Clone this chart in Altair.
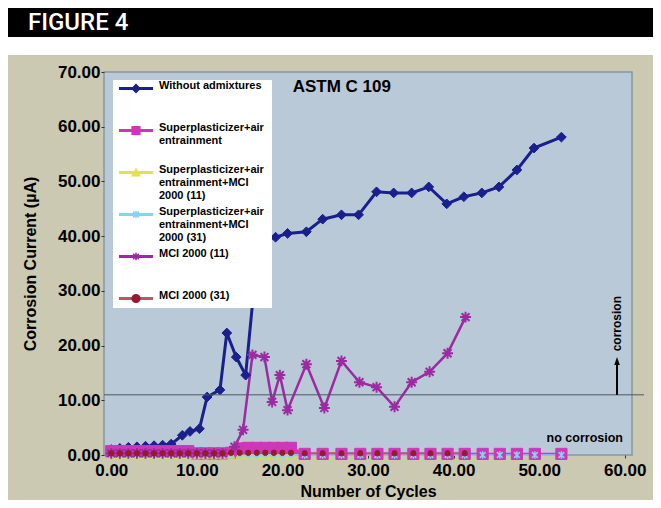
import altair as alt
import pandas as pd

# ---------------- data ----------------
SERIES = [
    "Without admixtures",
    "Superplasticizer+air|entrainment",
    "Superplasticizer+air|entrainment+MCI|2000 (11)",
    "Superplasticizer+air|entrainment+MCI|2000 (31)",
    "MCI 2000 (11)",
    "MCI 2000 (31)",
]

wo_x = [0, 1, 2, 3, 4, 5, 6, 7, 8.3, 9.2, 10.3, 11.2, 12.7, 13.5, 14.6, 15.7,
        17.2, 19.2, 20.6, 22.8, 24.7, 26.9, 28.9, 31.0, 33.0, 35.1, 37.1, 39.2,
        41.2, 43.3, 45.3, 47.4, 49.4, 52.6]
wo_y = [1.0, 1.2, 1.4, 1.5, 1.6, 1.7, 1.8, 2.0, 3.6, 4.3, 4.8, 10.6, 11.9, 22.3,
        17.9, 14.6, 39.0, 39.8, 40.5, 40.8, 43.1, 43.9, 43.9, 48.1, 47.9, 47.9,
        49.0, 45.9, 47.2, 47.9, 49.0, 52.1, 56.1, 58.1]

sp_x = [0, 1, 2, 3, 4, 5, 6, 7, 8, 9, 10, 11, 12, 13, 14, 15, 16, 17, 18, 19, 20, 21,
        22.6, 24.7, 26.9, 29.1, 31.1, 33.1, 35.3, 37.3, 39.3, 41.3, 43.4, 45.4,
        47.4, 49.5, 52.6]
sp_y = [0.7, 0.7, 0.7, 0.7, 0.7, 0.7, 0.7, 0.7, 0.7, 0.7, 0.3, 0.3, 0.3, 0.3, 0.4,
        1.2, 1.3, 1.3, 1.3, 1.3, 1.3, 1.3,
        0.2, 0.2, 0.2, 0.2, 0.2, 0.2, 0.2, 0.2, 0.2, 0.2, 0.2, 0.2, 0.2, 0.2, 0.2]

spm11_x = [0, 1, 2, 3, 4, 5, 6, 7, 8, 9, 10, 11, 12, 13, 14, 15, 16, 17, 18, 19, 20, 21]
spm11_y = [0.0, 0.0, 0.0, 0.0, 0.0, 0.0, 0.0, 0.0, 0.0, 0.0, 0.0, 0.0, 0.0, 0.0,
           0.0, 0.0, 0.0, 0.0, 0.0, 0.0, 0.0, 0.0]

spm31_x = [0, 1, 2, 3, 4, 5, 6, 7, 8, 9, 10, 11, 12, 13, 14, 15, 16, 17, 18, 19, 20, 21,
           22.6, 24.7, 26.9, 29.1, 31.1, 33.1, 35.3, 37.3, 39.3, 41.3, 43.4, 45.4,
           47.4, 49.5, 52.6]
spm31_y = [0.0, 0.0, 0.0, 0.0, 0.0, 0.0, 0.0, 0.0, 0.0, 0.0, 0.0, 0.0, 0.0, 0.0,
           0.0, 0.0, 0.0, 0.0, 0.0, 0.0, 0.0, 0.0,
           0.0, 0.0, 0.0, 0.0, 0.0, 0.0, 0.0, 0.0, 0.0, 0.0, 0.0, 0.0, 0.0, 0.0, 0.0]

m11_x = [0, 1, 2, 3, 4, 5, 6, 7, 8, 9, 10, 11, 12, 13, 14.4, 15.4, 16.5, 17.9,
         18.8, 19.7, 20.6, 22.8, 24.9, 26.9, 29.0, 31.0, 33.1, 35.1, 37.2, 39.3, 41.4]
m11_y = [0.3, 0.3, 0.3, 0.3, 0.3, 0.3, 0.3, 0.3, 0.3, 0.3, 0.3, 0.3, 0.3, 0.3,
         1.5, 4.6, 18.3, 17.9, 9.7, 14.6, 8.2, 16.6, 8.6, 17.2, 13.3, 12.4, 8.8,
         13.3, 15.2, 18.6, 25.2]

m31_x = [0, 1, 2, 3, 4, 5, 6, 7, 8, 9, 10, 11, 12, 13, 14, 15, 16, 17, 18, 19, 20, 21,
         22.6, 24.7, 26.9, 29.1, 31.1, 33.1, 35.3, 37.3, 39.3, 41.3]
m31_y = [0.3, 0.3, 0.3, 0.3, 0.3, 0.3, 0.3, 0.3, 0.3, 0.3, 0.3, 0.3, 0.3, 0.3,
         0.4, 0.4, 0.4, 0.4, 0.4, 0.4, 0.4, 0.4,
         0.3, 0.3, 0.3, 0.3, 0.3, 0.3, 0.3, 0.3, 0.3, 0.3]

X_VALUES = [wo_x, sp_x, spm11_x, spm31_x, m11_x, m31_x]
Y_VALUES = [wo_y, sp_y, spm11_y, spm31_y, m11_y, m31_y]

X_TICKS = [0, 10, 20, 30, 40, 50, 60]
Y_TICKS = [0, 10, 20, 30, 40, 50, 60, 70]

THRESHOLD = 11
ARROW_X = 59.1
ARROW_Y = [11, 16.6, 17.1]
CORROSION_POS = [59.1, 24.0]
NO_CORROSION_POS = [59.8, 2.4]
ASTM_POS = [21.2, 66.4]

# ---------------- styles ----------------
FONT = "Liberation Sans"
LINE_COLORS = ["#1a1f8e", "#cc38b8", "#e2e24a", "#86d2f0", "#9c2aa0", "#b85a64"]
MARK_COLORS = ["#1a1f8e", "#cc38b8", "#e2e24a", "#86d2f0", "#9c2aa0", "#9a1830"]
ASTER = "M-1,0L1,0M0,-1L0,1M-0.72,-0.72L0.72,0.72M-0.72,0.72L0.72,-0.72"
XBAR = "M-0.75,-0.75L0.75,0.75M-0.75,0.75L0.75,-0.75M0,-1L0,1"
LEGEND_LINE = "M-4.4,0L4.4,0"
SHAPES = ["diamond", "square", "triangle-up", XBAR, ASTER, "circle"]
SIZES = [95, 125, 55, 60, 120, 30]
LINE_W = [3, 2.5, 1.5, 1.5, 2.5, 2]
MARK_SW = [1, 1, 1, 1.5, 2, 1]
ZW = "\u200b"
SERIES_M = [s + ZW for s in SERIES]

rows = []
for name, xs, ys in zip(SERIES, X_VALUES, Y_VALUES):
    for x, y in zip(xs, ys):
        rows.append({"series": name, "series_m": name + ZW, "cycle": x, "current": y})
df = pd.DataFrame(rows)

x_axis = alt.Axis(values=X_TICKS, format=".2f", title="Number of Cycles",
                  labelFont=FONT, labelFontSize=17, labelFontWeight="bold",
                  labelColor="black", labelPadding=4, labelFlush=False,
                  labelOverlap=False, tickSize=3, tickColor="#333", tickWidth=1,
                  domain=False, grid=False, titleFont=FONT, titleFontSize=16,
                  titleFontWeight="bold", titleColor="black", titleY=41,
                  titleBaseline="alphabetic")
y_axis = alt.Axis(values=Y_TICKS, format=".2f", title="Corrosion Current (\u00b5A)",
                  labelFont=FONT, labelFontSize=17, labelFontWeight="bold",
                  labelColor="black", labelPadding=1, labelFlush=False,
                  labelOverlap=False, tickSize=3, tickColor="#333", tickWidth=1,
                  domain=False, grid=False, titleFont=FONT, titleFontSize=16,
                  titleFontWeight="bold", titleColor="black", titleAngle=270,
                  titleX=-74, titleY=191.5, titleAlign="center",
                  titleBaseline="middle")

x_enc = alt.X("cycle:Q", scale=alt.Scale(domain=[-0.85, 60.85], nice=False, zero=False),
              axis=x_axis)
y_enc = alt.Y("current:Q", scale=alt.Scale(domain=[0, 70], nice=False, zero=False),
              axis=y_axis)

common_legend = dict(orient="none", legendX=13.5, legendY=11, padding=0, title=None,
                     direction="vertical", columns=1, gridAlign="all", rowPadding=4.0,
                     labelFont=FONT, labelFontSize=11, labelFontWeight="bold",
                     labelColor="black", labelBaseline="alphabetic", labelLimit=400,
                     symbolSize=60, symbolOffset=13, labelOffset=17.5,
                     labelExpr="split(datum.label, '|')")
line_legend = alt.Legend(symbolType=LEGEND_LINE, symbolStrokeWidth=3, **common_legend)
mark_legend = alt.Legend(symbolStrokeWidth=1.5, labelOpacity=0, **common_legend)

base = alt.Chart(df)
one = pd.DataFrame({"k": [0]})

layers = []
# page header: white strip + black bar (outside the plot area)
layers.append(alt.Chart(one).mark_rect(fill="white").encode(
    x=alt.value(-96), x2=alt.value(549), y=alt.value(-64), y2=alt.value(-17)))
layers.append(alt.Chart(one).mark_rect(fill="black").encode(
    x=alt.value(-96), x2=alt.value(549), y=alt.value(-64), y2=alt.value(-35)))
layers.append(alt.Chart(one).mark_text(text="FIGURE 4", font="Roboto", fontSize=24,
                                       fontWeight=500, color="white", align="left",
                                       baseline="alphabetic").encode(
    x=alt.value(-76), y=alt.value(-42)))

for i, name in enumerate(SERIES):
    layers.append(base.transform_filter(alt.datum.series == name).mark_line(
        strokeWidth=LINE_W[i]).encode(
        x=x_enc, y=y_enc,
        color=alt.Color("series:N", scale=alt.Scale(domain=SERIES, range=LINE_COLORS),
                        legend=line_legend)))

for i, name in enumerate(SERIES):
    layers.append(base.transform_filter(alt.datum.series == name).mark_point(
        filled=True, size=SIZES[i], strokeWidth=MARK_SW[i], opacity=1).encode(
        x=x_enc, y=y_enc,
        fill=alt.Fill("series_m:N", scale=alt.Scale(domain=SERIES_M, range=MARK_COLORS),
                      legend=mark_legend),
        stroke=alt.Stroke("series_m:N", scale=alt.Scale(domain=SERIES_M, range=MARK_COLORS),
                          legend=mark_legend),
        shape=alt.Shape("series_m:N", scale=alt.Scale(domain=SERIES_M, range=SHAPES),
                        legend=mark_legend)))

# legend background box
layers.append(alt.Chart(one).mark_rect(fill="white").encode(
    x=alt.value(9), x2=alt.value(168), y=alt.value(8), y2=alt.value(236)))

# threshold line + arrow + annotations
layers.append(alt.Chart(one).mark_rule(color="#4d5862", strokeWidth=1).encode(
    y=alt.datum(THRESHOLD), x=alt.value(0), x2=alt.value(540)))
layers.append(alt.Chart(one).mark_rule(color="black", strokeWidth=2).encode(
    x=alt.datum(ARROW_X), y=alt.datum(ARROW_Y[0]), y2=alt.datum(ARROW_Y[1])))
layers.append(alt.Chart(one).mark_point(shape="M0,-1L0.62,0.8L-0.62,0.8Z", filled=True,
                                        color="black", size=80, opacity=1).encode(
    x=alt.datum(ARROW_X), y=alt.datum(ARROW_Y[2])))
layers.append(alt.Chart(one).mark_text(text="corrosion", font=FONT, fontSize=12,
                                       fontWeight="bold", color="black", angle=270,
                                       align="center", baseline="middle").encode(
    x=alt.datum(CORROSION_POS[0]), y=alt.datum(CORROSION_POS[1])))
layers.append(alt.Chart(one).mark_text(text="no corrosion", font=FONT, fontSize=12.5,
                                       fontWeight="bold", color="black", align="right",
                                       baseline="alphabetic").encode(
    x=alt.datum(NO_CORROSION_POS[0]), y=alt.datum(NO_CORROSION_POS[1])))
layers.append(alt.Chart(one).mark_text(text="ASTM C 109", font=FONT, fontSize=17,
                                       fontWeight="bold", color="black", align="left",
                                       baseline="alphabetic").encode(
    x=alt.datum(ASTM_POS[0]), y=alt.datum(ASTM_POS[1])))

chart = alt.layer(*layers).properties(
    width=528, height=383,
    padding={"left": 96, "top": 64, "right": 21, "bottom": 45},
    autosize=alt.AutoSizeParams(type="none"),
    background="#ccc9b2",
).configure_view(fill="#bac9d8", stroke="#8796a4", strokeWidth=1.5)

chart.save("out.html", embed_options={"renderer": "svg", "actions": False})
